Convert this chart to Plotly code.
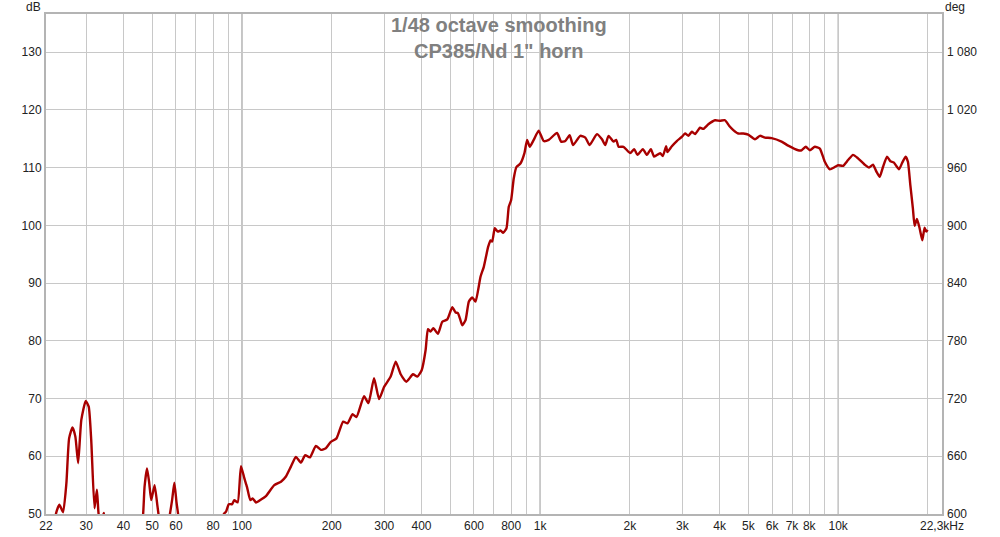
import numpy as np
import plotly.graph_objects as go

# ---- data ----
freq_hz = [22, 23.3, 23.8, 24.4, 25.1, 25.75, 26.3, 27.0, 27.6, 28.2, 28.9, 29.9, 30.6,
           31.2, 32.0, 32.6, 33.0, 33.5, 34.0, 34.4, 34.8, 36, 40, 45, 46.5, 47.1, 48.0,
           48.8, 49.6, 50.9, 52.0, 52.6, 53.5, 55, 57.1, 58.3, 59.3, 60.3, 61.2, 62, 70,
           80, 86, 86.9, 88.4, 90.3, 92.6, 94.2, 96.7, 99.2, 101.8, 103.9, 106.6, 108.6,
           111.4, 115.8, 120.3, 128.3, 135.1, 140.4, 145.9, 151.6, 157.6, 162.9, 168.9,
           176.9, 183.9, 191.1, 198.6, 207.5, 218.4, 225.9, 234.8, 242.1, 256.7, 265.6,
           277.3, 288.3, 299.6, 315.3, 327.8, 340.7, 356.0, 374.6, 387.4, 400.6, 413,
           420.5, 429.3, 438.4, 454.2, 469.8, 488.3, 507.5, 520.6, 529.9, 538.2, 548.3,
           562.4, 576.8, 592.1, 607.3, 631.1, 647.4, 669.7, 681.8, 690.8, 704.7, 721.3,
           736.4, 751.9, 771.3, 785.1, 799.7, 815.8, 832.9, 859, 886, 904.7, 923.1, 952,
           989, 1028, 1069, 1140, 1176, 1215, 1257, 1290, 1364, 1418, 1466, 1551, 1613,
           1654, 1697, 1764, 1801, 1833, 1905, 2006, 2069, 2122, 2212, 2282, 2353, 2414,
           2528, 2581, 2648, 2674, 2767, 2875, 2988, 3065, 3145, 3228, 3311, 3440, 3529,
           3668, 3863, 4015, 4172, 4313, 4448, 4623, 4805, 4993, 5258, 5464, 5679, 5980,
           6459, 6797, 7342, 7536, 7790, 8035, 8351, 8679, 9019, 9373, 9741, 9993, 10385,
           10792, 11216, 11656, 12277, 12690, 13088, 13436, 13784, 14135, 14580, 14967,
           15356, 15993, 16418, 16841, 17140, 17458, 17812, 18048, 18372, 18757, 19152,
           19495, 19753, 19953]
spl_db = [44, 47, 50.2, 51.6, 50.3, 55.3, 63.1, 65.0, 63.4, 58.8, 66.3, 69.6, 68.6,
          62.8, 51.0, 54.2, 50.2, 48.5, 49.3, 50.2, 48, 45, 44, 46, 49.5, 54.7, 57.9,
          55.5, 52.4, 55.0, 51.5, 49.5, 46, 45, 49.5, 52.5, 55.4, 52, 49.5, 46, 44,
          45, 48, 50.0, 50.4, 51.7, 51.7, 52.4, 52.0, 58.3, 56.2, 54.7, 52.4, 52.7,
          52.0, 52.5, 53.1, 55.0, 55.6, 56.5, 58.2, 59.9, 58.9, 60.2, 59.8,
          61.8, 61.1, 61.4, 62.5, 63.1, 66.0, 65.7, 67.3, 66.8, 70.4, 69.2,
          73.5, 69.9, 72.0, 73.8, 76.4, 74.2, 72.9, 74.2, 73.8, 74.9, 78.4,
          82.0, 81.6, 82.2, 81.2, 83.3, 83.7, 85.8, 84.9, 84.8, 83.9, 82.7,
          83.6, 86.8, 87.5, 86.8, 91.1, 92.8, 96.3, 97.4, 97.2, 99.5, 98.9,
          99.1, 98.7, 99.5, 103.2, 104.4, 108.1, 110.1, 110.7, 112.5, 114.8, 113.6, 114.8,
          116.4, 114.6, 114.8, 116.0, 114.5, 114.6, 115.6, 113.9, 115.5, 115.2, 113.9, 115.8, 114.9,
          113.9, 115.5, 114.5, 114.8, 113.6, 113.6, 112.5, 113.2, 112.2, 113.2, 112.2, 113.2, 111.9,
          112.5, 112.0, 113.7, 112.7, 113.7, 114.6, 115.3, 115.9, 115.5, 116.2, 115.8, 116.9, 116.7,
          117.5, 118.2, 118.1, 118.2, 117.2, 116.5, 115.9, 115.9, 115.7, 114.9, 115.5, 115.2, 115.1,
          114.5, 113.8, 113.0, 113.0, 113.6, 113.0, 113.6, 113.3, 111.0, 109.7, 110.1, 110.4, 110.3,
          111.3, 112.2, 111.6, 110.5, 110.0, 110.5, 109.3, 108.4, 110.1, 111.9, 111.1,
          110.9, 109.7, 110.9, 111.9, 111.0, 107.0, 102.9, 99.9, 101.1, 99.5, 97.4,
          99.6, 98.9, 99.2]

x_tick_vals = [22, 30, 40, 50, 60, 70, 80, 90, 100, 200, 300, 400, 500, 600, 700, 800, 900,
               1000, 2000, 3000, 4000, 5000, 6000, 7000, 8000, 9000, 10000, 20000, 22300]
x_tick_text = ["22", "30", "40", "50", "60", "", "80", "", "100", "200", "300", "400", "",
               "600", "", "800", "", "1k", "2k", "3k", "4k", "5k", "6k", "7k", "8k", "",
               "10k", "", "22,3kHz"]
db_ticks = [50, 60, 70, 80, 90, 100, 110, 120, 130]
deg_ticks = [600, 660, 720, 780, 840, 900, 960, 1020, 1080]
deg_text = ["600", "660", "720", "780", "840", "900", "960", "1 020", "1 080"]
decade_lines = [100, 1000, 10000]

DB_MIN, DB_MAX = 50, 136.6
DEG_MIN, DEG_MAX = 600, 600 + (DB_MAX - DB_MIN) * 6

FONT = "Liberation Sans, Arial, sans-serif"

fig = go.Figure()
fig.add_trace(go.Scatter(x=freq_hz, y=spl_db, mode="lines",
                         line=dict(color="#a80000", width=2.4, shape="spline", smoothing=0.5),
                         showlegend=False, hoverinfo="skip"))
fig.add_trace(go.Scatter(x=[], y=[], yaxis="y2", mode="lines", showlegend=False))

for f in decade_lines:
    fig.add_shape(type="line", x0=f, x1=f, y0=0, y1=1, xref="x", yref="paper",
                  line=dict(color="#8a8a8a", width=1), layer="below")

fig.update_layout(
    width=1000, height=537,
    margin=dict(l=46, r=58, t=14, b=23),
    paper_bgcolor="white", plot_bgcolor="white",
    font=dict(family=FONT, size=12, color="#222"),
    xaxis=dict(type="log", range=[np.log10(22), np.log10(22300)], automargin=False,
               tickvals=x_tick_vals, ticktext=x_tick_text, ticks="",
               showgrid=True, gridcolor="#c8c8c8", gridwidth=1,
               showline=True, linecolor="#b4b4b4", linewidth=2, mirror=True,
               zeroline=False, tickfont=dict(size=12, color="#222")),
    yaxis=dict(range=[DB_MIN, DB_MAX], tickvals=db_ticks, ticks="", automargin=False,
               showgrid=True, gridcolor="#c8c8c8", gridwidth=1,
               showline=True, linecolor="#b4b4b4", linewidth=2, mirror=True,
               zeroline=False, tickfont=dict(size=12, color="#222"), ticklabelstandoff=0),
    yaxis2=dict(range=[DEG_MIN, DEG_MAX], overlaying="y", side="right", automargin=False,
                tickvals=deg_ticks, ticktext=deg_text, ticks="", showgrid=False,
                zeroline=False, showline=False, tickfont=dict(size=12, color="#222"),
                ticklabelstandoff=4),
    annotations=[
        dict(text="1/48 octave smoothing<br>CP385/Nd 1\" horn", xref="paper", yref="paper",
             x=0.5056, y=1, xanchor="center", yanchor="top", showarrow=False, yshift=2,
             font=dict(family=FONT, size=20, color="#808080", weight="bold")),
        dict(text="dB", xref="paper", yref="paper", x=-0.0134, y=1.014, xanchor="center",
             yanchor="middle", showarrow=False, font=dict(size=12, color="#222")),
        dict(text="deg", xref="paper", yref="paper", x=1.0145, y=1.014, xanchor="center",
             yanchor="middle", showarrow=False, font=dict(size=12, color="#222")),
    ],
)

fig.write_html("out.html", config={"displayModeBar": False},
               post_script="document.body.style.margin='0';document.body.style.overflow='hidden';")
